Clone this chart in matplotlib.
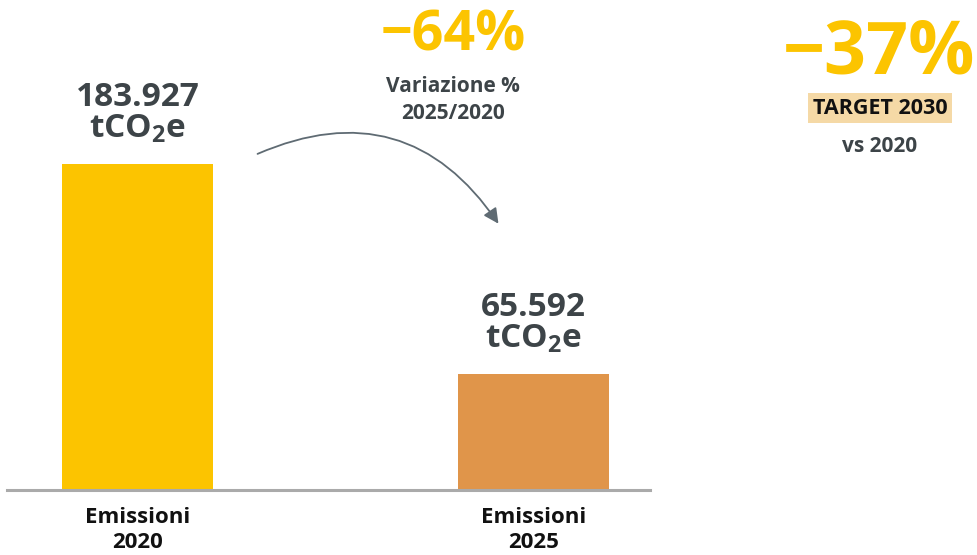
import matplotlib
matplotlib.use("Agg")
import matplotlib.pyplot as plt
from matplotlib.patches import FancyArrowPatch

# Data
categories = ["Emissioni\n2020", "Emissioni\n2025"]
emissions = [183927, 65592]
value_labels = ["183.927", "65.592"]
variation_label = "−64%"
target_label = "−37%"

FONT = "Open Sans"
plt.rcParams["font.family"] = [FONT, "DejaVu Sans"]
plt.rcParams["mathtext.fontset"] = "custom"
plt.rcParams["mathtext.rm"] = f"{FONT}:bold"
plt.rcParams["mathtext.bf"] = f"{FONT}:bold"
plt.rcParams["mathtext.it"] = f"{FONT}:bold"

YELLOW = "#FCC400"
ORANGE = "#E0954A"
DARK = "#3D4448"
BLACK = "#111111"

W, H = 978, 555
fig = plt.figure(figsize=(W / 100, H / 100), dpi=100)

# Axes: baseline at y=490 px, spanning x=10..650 px
ax = fig.add_axes([10 / W, (H - 490) / H, 640 / W, 490 / H])
x = list(range(len(categories)))
bars = ax.bar(x, emissions, width=0.381, color=[YELLOW, ORANGE], zorder=2)
ax.set_xlim(-0.322, 1.294)
ax.set_ylim(0, 276455)
ax.axis("off")
ax.axhline(0, color="#AAAAAA", lw=2.2, zorder=3, xmin=-0.005, xmax=1.0, clip_on=False)

for xi, val, lab in zip(x, emissions, value_labels):
    ax.annotate(lab, (xi, val), xytext=(0, 48), textcoords="offset points",
                ha="center", va="center", fontsize=24, fontweight="bold", color=DARK)
    ax.annotate(r"$\mathbf{tCO_2e}$", (xi, val), xytext=(0, 25), textcoords="offset points",
                ha="center", va="center", fontsize=24, color=DARK)

for xi, cat in zip(x, categories):
    ax.annotate(cat, (xi, 0), xytext=(0, -12), textcoords="offset points",
                ha="center", va="top", fontsize=16, fontweight="bold", color=BLACK,
                linespacing=1.3)

# Variation annotation
fig.text(453 / W, 1 - 36 / H, variation_label, ha="center", va="center",
         fontsize=40, fontweight="bold", color=YELLOW)
fig.text(453 / W, 1 - 100 / H, "Variazione %\n2025/2020", ha="center", va="center",
         fontsize=15, fontweight="bold", color=DARK, linespacing=1.35)

arrow = FancyArrowPatch((255, H - 155), (500, H - 226), transform=None,
                        connectionstyle="arc3,rad=-0.42", arrowstyle="-|>,head_length=9,head_width=4.5",
                        color="#5F6B73", lw=1.3, mutation_scale=1)
fig.add_artist(arrow)

# Target annotation
fig.text(879 / W, 1 - 55 / H, target_label, ha="center", va="center",
         fontsize=53, fontweight="bold", color=YELLOW)
fig.text(880 / W, 1 - 108 / H, "TARGET 2030", ha="center", va="center",
         fontsize=15.5, fontweight="bold", color=BLACK,
         bbox=dict(boxstyle="square,pad=0.2", fc="#F5D9A6", ec="none"))
fig.text(880 / W, 1 - 146 / H, "vs 2020", ha="center", va="center",
         fontsize=15, fontweight="bold", color=DARK)

fig.savefig("out.png", dpi=100, facecolor="white")
